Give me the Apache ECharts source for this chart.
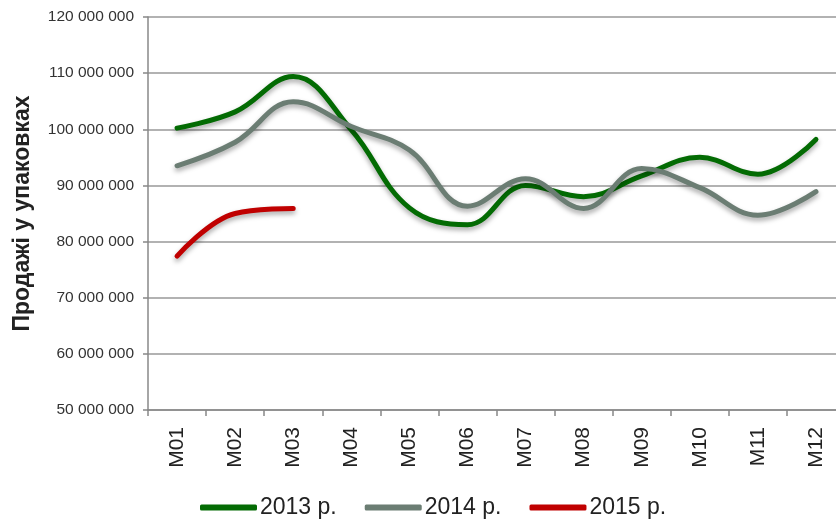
<!DOCTYPE html>
<html>
<head>
<meta charset="utf-8">
<script src="https://cdn.jsdelivr.net/npm/echarts@6/dist/echarts.min.js"></script>
<style>
  html, body { margin: 0; padding: 0; background: #fff; overflow: hidden; }
  #chart { width: 845px; height: 520px; }
</style>
</head>
<body>
<div id="chart"></div>
<script>
const months = ['M01', 'M02', 'M03', 'M04', 'M05', 'M06', 'M07', 'M08', 'M09', 'M10', 'M11', 'M12']
const sales2013 = [100200000, 103100000, 109400000, 99900000, 86000000, 83000000, 90000000, 88000000, 91700000, 95000000, 92000000, 98200000]
const sales2014 = [93500000, 97700000, 104900000, 100500000, 96300000, 86300000, 91200000, 85900000, 93000000, 89600000, 84700000, 88900000]
const sales2015 = [77400000, 85000000, 85900000]

// 120000000 -> "120 000 000"
const fmt = v => String(v).replace(/\B(?=(\d{3})+(?!\d))/g, ' ')

const chart = echarts.init(document.getElementById('chart'))

function lineSeries(name, data, color) {
  return {
    name: name,
    type: 'line',
    data: data,
    smooth: 0.4,
    symbol: 'none',
    lineStyle: {
      width: 5,
      color: color,
      cap: 'round',
      shadowColor: 'rgba(0, 0, 0, 0.35)',
      shadowBlur: 5,
      shadowOffsetY: 3
    },
    itemStyle: { color: color }
  }
}

chart.setOption({
  animation: false,
  textStyle: { fontFamily: 'Liberation Sans, Arial, sans-serif' },
  grid: { left: 148, top: 17, bottom: 110, right: 0 },
  legend: {
    bottom: -4,
    left: 195,
    itemWidth: 57,
    itemHeight: 6,
    itemGap: 28,
    icon: 'roundRect',
    textStyle: { fontSize: 23, color: '#222', padding: [0, 0, 0, -2] },
    data: ['2013 р.', '2014 р.', '2015 р.']
  },
  xAxis: {
    type: 'category',
    data: months,
    boundaryGap: true,
    axisLine: { lineStyle: { color: '#888', width: 1.5 } },
    axisTick: { show: true, length: 6, lineStyle: { color: '#888', width: 1.5 } },
    axisLabel: { rotate: 90, fontSize: 21, color: '#222', margin: 17 }
  },
  yAxis: {
    type: 'value',
    min: 50000000,
    max: 120000000,
    interval: 10000000,
    name: 'Продажі у упаковках',
    nameLocation: 'middle',
    nameGap: 114,
    nameTextStyle: { fontSize: 23, fontWeight: 'bold', color: '#222' },
    axisLine: { show: true, lineStyle: { color: '#888', width: 1.5 } },
    axisTick: { show: true, length: 5, lineStyle: { color: '#888', width: 1.5 } },
    axisLabel: { fontSize: 15.5, color: '#333', margin: 14, formatter: fmt },
    splitLine: { lineStyle: { color: '#999', width: 1.5 } }
  },
  series: [
    lineSeries('2013 р.', sales2013, '#036b03'),
    lineSeries('2014 р.', sales2014, '#6b7d73'),
    lineSeries('2015 р.', sales2015, '#c00000')
  ]
})
</script>
</body>
</html>
